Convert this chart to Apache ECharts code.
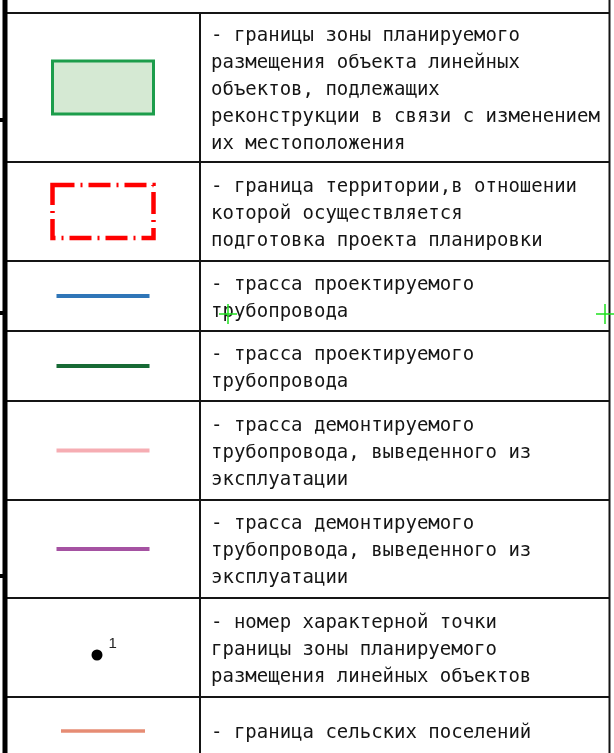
<!DOCTYPE html>
<html>
<head>
<meta charset="utf-8">
<script src="https://cdn.jsdelivr.net/npm/echarts@6/dist/echarts.min.js"></script>
<style>
html,body{margin:0;padding:0;background:#fff;}
#chart{width:614px;height:753px;}
</style>
</head>
<body>
<div id="chart"></div>
<script>
// ---- data ----
const descriptions = [
  ["- границы зоны планируемого", "размещения объекта линейных", "объектов, подлежащих", "реконструкции в связи с изменением", "их местоположения"],
  ["- граница территории,в отношении", "которой осуществляется", "подготовка проекта планировки"],
  ["- трасса проектируемого", "трубопровода"],
  ["- трасса проектируемого", "трубопровода"],
  ["- трасса демонтируемого", "трубопровода, выведенного из", "эксплуатации"],
  ["- трасса демонтируемого", "трубопровода, выведенного из", "эксплуатации"],
  ["- номер характерной точки", "границы зоны планируемого", "размещения линейных объектов"],
  ["- граница сельских поселений"]
];
const symbolTypes = ["zoneRect", "dashRect", "line", "line", "line", "line", "point", "line"];
const symbolColors = ["#1c9d4b", "#ff0000", "#2f76b8", "#176a35", "#f6adb3", "#a552a2", "#000000", "#e68c74"];
const pointLabels = ["", "", "", "", "", "", "1", ""];
const rowEdges = [13, 162, 261, 331, 401, 500, 598, 697, 765];
const leftTicks = [120, 313, 576];
const crossMarks = [[228, 314], [605, 314]];

// ---- layout constants ----
const W = 614, H = 753;
const FRAME_LEFT = 5, COL_DIV = 200, FRAME_RIGHT = 609.5;
const SYMBOL_CX = 103, TEXT_X = 211, LINE_H = 27;
const TEXT_FONT = '19px "DejaVu Sans Mono"';
const INK = '#151515';

const chart = echarts.init(document.getElementById('chart'), null, {renderer: 'canvas'});

function renderRow(params, api) {
  const i = api.value(0);
  const top = rowEdges[i], bottom = rowEdges[i + 1];
  const c = (x, y) => api.coord([x, y]);
  const children = [];
  const a = c(FRAME_LEFT, top), b = c(FRAME_RIGHT, top);
  children.push({type: 'line', shape: {x1: a[0], y1: a[1], x2: b[0], y2: b[1]}, style: {stroke: INK, lineWidth: 2}});
  const d1 = c(COL_DIV, top), d2 = c(COL_DIV, Math.min(bottom, H));
  children.push({type: 'line', shape: {x1: d1[0], y1: d1[1], x2: d2[0], y2: d2[1]}, style: {stroke: INK, lineWidth: 2}});
  const cy = (top + bottom) / 2;
  const t = symbolTypes[i], col = symbolColors[i];
  if (t === 'zoneRect') {
    const p1 = c(SYMBOL_CX - 50.5, cy - 26.5), p2 = c(SYMBOL_CX + 50.5, cy + 26.5);
    children.push({type: 'rect', shape: {x: p1[0], y: p1[1], width: p2[0] - p1[0], height: p2[1] - p1[1]},
      style: {fill: '#d5e9d3', stroke: col, lineWidth: 3}});
  } else if (t === 'dashRect') {
    const p1 = c(SYMBOL_CX - 50.5, cy - 26.5), p2 = c(SYMBOL_CX + 50.5, cy + 26.5);
    children.push({type: 'rect', shape: {x: p1[0], y: p1[1], width: p2[0] - p1[0], height: p2[1] - p1[1]},
      style: {fill: 'none', stroke: col, lineWidth: 4.5, lineDash: [22, 6, 2, 6]}});
  } else if (t === 'line') {
    const last = (i === rowEdges.length - 2);
    const half = last ? 42 : 46.5;
    const l1 = c(SYMBOL_CX - half, cy), l2 = c(SYMBOL_CX + half, cy);
    children.push({type: 'line', shape: {x1: l1[0], y1: l1[1], x2: l2[0], y2: l2[1]},
      style: {stroke: col, lineWidth: last ? 3.5 : 4}});
  } else if (t === 'point') {
    const pc = c(SYMBOL_CX - 6, cy + 7.5);
    children.push({type: 'circle', shape: {cx: pc[0], cy: pc[1], r: 5.5}, style: {fill: col}});
    const lc = c(SYMBOL_CX + 5.5, cy - 4);
    children.push({type: 'text', style: {text: pointLabels[i], x: lc[0], y: lc[1], font: '15px "Liberation Sans"',
      fill: '#222', textAlign: 'left', textVerticalAlign: 'middle'}});
  }
  const lines = descriptions[i];
  const tcy = cy + 2.5;
  lines.forEach((txt, k) => {
    const ty = tcy + (k - (lines.length - 1) / 2) * LINE_H;
    const tp = c(TEXT_X, ty);
    children.push({type: 'text', style: {text: txt, x: tp[0], y: tp[1], font: TEXT_FONT, fill: INK,
      textAlign: 'left', textVerticalAlign: 'middle'}});
  });
  return {type: 'group', children: children};
}

function renderFrame(params, api) {
  const c = (x, y) => api.coord([x, y]);
  const children = [];
  const l1 = c(FRAME_LEFT, 0), l2 = c(FRAME_LEFT, H);
  children.push({type: 'line', shape: {x1: l1[0], y1: l1[1], x2: l2[0], y2: l2[1]}, style: {stroke: '#000', lineWidth: 5}});
  const r1 = c(FRAME_RIGHT, 0), r2 = c(FRAME_RIGHT, H);
  children.push({type: 'line', shape: {x1: r1[0], y1: r1[1], x2: r2[0], y2: r2[1]}, style: {stroke: INK, lineWidth: 2}});
  leftTicks.forEach(y => {
    const t1 = c(0, y), t2 = c(FRAME_LEFT, y);
    children.push({type: 'line', shape: {x1: t1[0], y1: t1[1], x2: t2[0], y2: t2[1]}, style: {stroke: '#000', lineWidth: 4}});
  });
  return {type: 'group', children: children};
}

function renderCross(params, api) {
  const x = api.value(0), y = api.value(1);
  const h1 = api.coord([x - 9, y]), h2 = api.coord([x + 9, y]);
  const v1 = api.coord([x, y - 10]), v2 = api.coord([x, y + 10]);
  return {type: 'group', children: [
    {type: 'line', shape: {x1: h1[0], y1: h1[1], x2: h2[0], y2: h2[1]}, style: {stroke: '#1ee01e', lineWidth: 1.5}},
    {type: 'line', shape: {x1: v1[0], y1: v1[1], x2: v2[0], y2: v2[1]}, style: {stroke: '#1ee01e', lineWidth: 1.5}}
  ]};
}

chart.setOption({
  animation: false,
  backgroundColor: '#ffffff',
  grid: {left: 0, right: 0, top: 0, bottom: 0},
  xAxis: {type: 'value', min: 0, max: W, show: false},
  yAxis: {type: 'value', min: 0, max: H, inverse: true, show: false},
  series: [
    {type: 'custom', renderItem: renderRow, data: descriptions.map((d, i) => [i]), clip: false, silent: true, z: 2},
    {type: 'custom', renderItem: renderFrame, data: [[0]], clip: false, silent: true, z: 3},
    {type: 'custom', renderItem: renderCross, data: crossMarks, clip: false, silent: true, z: 4}
  ]
});
</script>
</body>
</html>
